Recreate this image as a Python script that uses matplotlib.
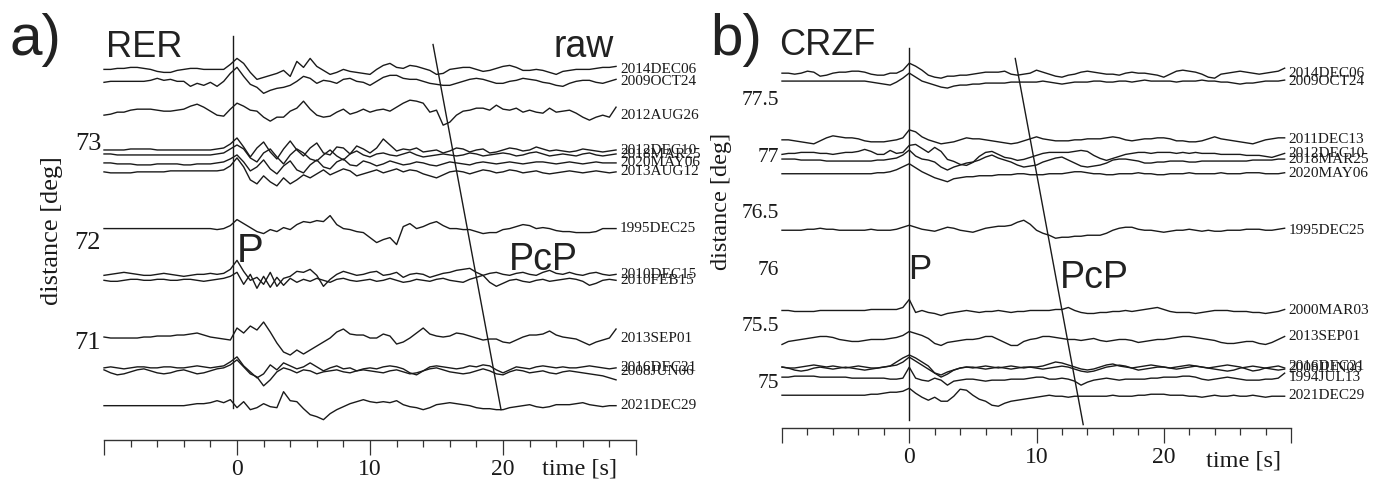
import numpy as np
import matplotlib
matplotlib.use("Agg")
import matplotlib.pyplot as plt

# ------------------------------------ figure size in pixels
W, H = 1373, 480

# ------------------------------------ trace sampling [s]
t_start = -10.0
t_step = 0.5

# ------------------------------------ RER traces (amplitude, arb. units)
rer_2014dec06 = [0, 0, 1, 1, 2, 2, 1, 0, -2, -3,
                 -3, -1, 0, 1, 1, 0, 0, 0, 0, 5,
                 11, 6, -3, -10, -8, -6, -4, -1, -7, 8,
                 2, 11, 3, -1, -5, -3, 0, -2, -3, -4,
                 -5, 0, 4, 6, 2, 1, 4, 3, 1, -1,
                 -5, -4, 0, 1, 2, 2, 0, -2, -1, 1,
                 3, 4, 2, -1, -1, 0, -1, -3, -5, -2,
                 -1, 0, 0, 0, 1, 2, 2, 3]
rer_2009oct24 = [-1, 0, 0, 0, 0, 0, 0, 1, 3, 1,
                 2, 0, 0, -5, -2, -4, -1, -5, 0, 8,
                 14, 5, -3, -6, -12, -9, -7, -6, -4, 0,
                 5, 3, -2, 1, 0, -2, 2, 3, 0, -1,
                 -4, 0, 4, 6, 6, 3, 2, 2, 0, -2,
                 -3, -4, -4, -2, 0, 2, 3, 2, 0, -2,
                 -2, 0, 1, 3, 2, 1, -1, -2, -4, -5,
                 -2, 0, 1, 1, -1, -2, 0, 2]
rer_2012aug26 = [0, 1, 3, 3, 5, 6, 6, 6, 5, 4,
                 4, 5, 6, 9, 11, 8, 4, 0, -1, 6,
                 12, 9, 5, 4, -2, -6, -2, -2, 4, 7,
                 14, 6, 0, -2, -1, 3, 6, 1, 3, 6,
                 3, 5, 6, 4, 8, 12, 15, 14, 12, 3,
                 5, -10, -7, 0, 4, 5, 7, 7, 5, 10,
                 6, 5, 7, 3, 5, 3, 2, 7, 3, 4,
                 5, 2, -2, -5, -2, 0, -2, 8]
rer_2012dec10 = [1, 1, 1, 1, 2, 2, 2, 2, 1, 1,
                 1, 1, 1, 1, 1, 1, 1, 2, 3, 7,
                 13, 4, -6, 3, 9, -1, -8, 2, 10, 1,
                 -5, 3, 8, -2, -4, 4, 3, -3, 5, 2,
                 -2, 3, 12, 6, 0, 2, 1, 3, -1, 0,
                 1, -2, 0, 3, 2, -1, 1, 2, -2, -1,
                 1, 3, 2, 0, 1, 4, 2, 0, 1, 0,
                 -1, 0, 2, 1, 0, -1, 0, 1]
rer_2018mar25 = [1, 1, 0, 0, 0, 0, 0, 0, 0, 0,
                 0, 0, 0, 0, 0, 0, 0, 1, 2, 6,
                 10, 6, -3, -7, 2, 6, -2, -9, 0, 6,
                 2, -4, -6, 0, 5, -1, -5, 1, 4, 0,
                 -2, 1, 2, 0, -1, 1, 3, 0, -2, -1,
                 0, 1, 0, -1, 0, 2, 1, -1, 0, 1,
                 2, 1, -1, 0, 2, 3, 1, -1, 0, 1,
                 0, -1, 1, 2, 0, -1, 0, 1]
rer_2020may06 = [0, 0, -1, -1, -1, -2, -2, -2, -1, -1,
                 -1, -1, -2, -2, -1, -1, -1, 0, 1, 4,
                 8, 1, -8, -4, 3, -6, -11, -3, 2, -7,
                 -10, -2, 3, -4, -6, 1, 4, -2, -3, 2,
                 0, -3, -1, 2, 0, -2, -1, 1, 0, -2,
                 -3, -1, 1, 0, -1, -2, 0, 1, 0, -1,
                 0, 1, 0, -1, 0, 1, 1, 0, -1, 0,
                 1, 0, -1, 0, 1, 0, 0, 0]
rer_2013aug12 = [0, -1, -1, -1, -1, 0, 0, 0, 0, 0,
                 1, 1, 1, 1, 1, 1, 1, 1, 2, 6,
                 14, 5, -8, -12, -4, -10, -14, -6, -12, -8,
                 -3, -6, -2, 2, -3, 0, 3, 1, -4, -2,
                 0, 2, -1, 1, 3, 0, 2, 1, -2, -4,
                 -6, -3, 0, 1, 0, -2, 0, 2, 1, -1,
                 0, 2, 1, -1, 0, 1, -1, -2, -1, 0,
                 1, 0, -1, 0, 1, 0, -1, 0]
rer_1995dec25 = [0, 0, 0, 0, 0, 0, 0, 0, 0, 0,
                 0, 0, 0, 0, 0, 0, 0, -1, 0, 3,
                 9, 5, 1, -3, -5, -1, -3, 1, -1, 4,
                 7, 6, 8, 7, 13, 4, 0, -1, -3, -4,
                 -9, -14, -11, -9, -16, 2, 5, 0, 2, 5,
                 7, 3, 0, 0, -1, -1, -3, -5, -4, -4,
                 -1, 0, 2, 4, 3, 0, 1, 0, -2, -3,
                 -3, -4, -4, -4, -3, 0, 0, 0]
rer_2010dec15 = [-1, 0, 1, 2, 1, 0, -1, -1, 0, 1,
                 0, -1, -2, -1, 0, 0, 1, 0, 1, 5,
                 14, 3, -6, -3, -10, 2, -12, -4, -2, 3,
                 2, 5, -1, -12, -5, 0, 3, 1, -1, 0,
                 2, 3, -1, 0, 2, -3, 0, 1, 0, -3,
                 -1, 1, 2, 4, 5, 6, 2, -1, 1, 2,
                 0, -1, 1, 2, 0, -1, 2, 4, 1, 0,
                 2, 0, -1, 1, 2, 0, -1, 0]
rer_2010feb15 = [0, -1, -1, 0, 1, 1, 0, 0, 1, 1,
                 0, 0, 1, 1, 0, -1, 0, 1, 2, 4,
                 8, -4, 6, -8, 4, -7, 3, -5, 2, -2,
                 1, -1, 2, 0, -2, 1, 2, 0, -1, 0,
                 1, -1, 0, 2, 0, -2, -1, 1, 0, -1,
                 1, 2, 0, -1, -2, 1, 3, 5, -2, -6,
                 -3, 0, 1, -1, -2, 0, 1, -1, 0, 1,
                 2, 1, -1, -5, -3, 0, 1, 0]
rer_2013sep01 = [1, 0, 0, 0, 0, 0, 1, 1, 2, 2,
                 2, 3, 3, 4, 5, 3, 1, 0, -1, -2,
                 10, 5, 12, 8, 16, 6, -5, -14, -17, -12,
                 -16, -12, -8, -4, 0, 6, 9, 4, 3, 3,
                 0, 0, 4, 2, -6, -4, 0, 5, 10, 4,
                 2, 1, 2, 5, 4, 2, 0, -2, -1, -1,
                 -4, -5, -2, 1, 3, 3, 4, 7, 3, 1,
                 0, -1, -4, -7, -4, -2, 0, 9]
rer_2016dec21 = [0, 1, 0, -1, 0, 1, 1, 0, 0, 1,
                 1, 0, 0, 1, 2, 1, 0, 1, 2, 6,
                 11, 2, -4, -10, -6, 3, -2, 5, 2, -1,
                 1, 5, 1, -3, 0, 2, -1, 0, -3, -1,
                 0, -1, 1, 2, 1, -1, -5, -7, -3, 1,
                 2, 1, 0, -1, 0, 2, 1, 3, 2, -2,
                 -5, -2, 1, 0, -1, 1, 2, 1, 0, 1,
                 0, 0, 1, 2, 1, 0, -1, 0]
rer_2008jun06 = [2, -1, -3, -2, 0, 2, 3, 1, -1, -2,
                 -1, 1, 2, 0, -2, -1, 1, 3, 4, 7,
                 12, 5, -2, -5, -14, -8, 0, 4, 2, -1,
                 2, 1, -2, 0, 1, 2, 0, -1, 1, 2,
                 1, 0, -1, 1, 2, 0, -2, -1, 1, 3,
                 4, 2, 0, -1, -2, -1, 1, 3, 1, -2,
                 -3, 0, 2, 1, -1, 0, 1, -1, -2, 0,
                 1, 0, -1, -2, -3, -4, -6, -8]
rer_2021dec29 = [0, 0, 0, 0, 0, 0, 0, 0, 0, 0,
                 0, 0, 0, 1, 2, 2, 3, 5, 3, 6,
                 -2, 4, -4, -2, 2, -1, -2, 14, 5, 4,
                 -3, -9, -11, -14, -8, -4, -1, 2, 4, 6,
                 4, 3, 4, 3, 5, 1, -1, -2, -4, -2,
                 1, 2, 3, 2, 1, 0, -2, -3, -3, -4,
                 -4, -2, -1, 0, 1, -1, -2, -1, 1, 1,
                 1, 2, 3, 1, 0, -1, 0, 0]

labels_a = ["2014DEC06", "2009OCT24", "2012AUG26", "2012DEC10",
            "2018MAR25", "2020MAY06", "2013AUG12", "1995DEC25",
            "2010DEC15", "2010FEB15", "2013SEP01", "2016DEC21",
            "2008JUN06", "2021DEC29"]
dist_a = [73.72, 73.60, 73.26, 72.90, 72.86, 72.78, 72.69, 72.12,
          71.66, 71.60, 71.02, 70.72, 70.68, 70.34]
traces_a = [rer_2014dec06, rer_2009oct24, rer_2012aug26, rer_2012dec10,
            rer_2018mar25, rer_2020may06, rer_2013aug12, rer_1995dec25,
            rer_2010dec15, rer_2010feb15, rer_2013sep01, rer_2016dec21,
            rer_2008jun06, rer_2021dec29]

# ------------------------------------ CRZF traces (amplitude, arb. units)
crzf_2014dec06 = [0, 0, -1, 0, 2, 1, -3, -2, 0, 1,
                  1, 2, 2, 1, -1, -2, -2, 0, 0, 3,
                  10, 7, 3, -2, -4, -5, -3, -3, -2, -2,
                  -1, 0, 1, 1, 1, 2, -1, -2, -1, 0,
                  3, 1, -1, -3, -4, -2, -1, 1, 2, 1,
                  0, -1, -1, -2, 0, 1, 0, 0, -1, -2,
                  -4, -1, 2, 3, 2, 1, -1, -4, -5, -1,
                  0, 1, 2, 1, 0, -1, 0, 1, 2, 5]
crzf_2009oct24 = [0, 0, 0, 0, 0, 0, 0, 0, 0, 0,
                  0, 0, 0, 0, -1, -2, -3, -4, -1, 3,
                  8, 4, 0, -2, -4, -6, -7, -5, -4, -4,
                  -3, -3, -2, -2, -2, -2, -1, -1, -1, -1,
                  -1, 0, -1, -2, -3, -2, -1, -1, -1, 0,
                  0, -1, -1, 0, 0, -1, 0, 1, 0, 0,
                  0, 0, -1, 0, 0, 0, 1, 0, 0, -1,
                  -1, -2, -3, -2, -2, -1, 0, 0, 0, 1]
crzf_2011dec13 = [0, 0, -1, -2, -3, -4, -1, 2, 4, 3,
                  2, 2, 1, -1, -2, -2, -2, -1, 0, 2,
                  10, 8, 3, 0, -2, -4, -3, -2, 0, 2,
                  1, 1, 0, -1, -2, -3, -4, -3, -1, 1,
                  3, 1, 0, -1, -1, -1, 0, 0, 1, 1,
                  1, 2, 3, 2, 0, -1, 0, 1, 1, 2,
                  2, 1, -1, -1, -2, -2, -1, 1, 3, 1,
                  0, -1, -2, -3, -4, -2, 0, 1, 2, 2]
crzf_2012dec10 = [-1, 0, 0, 1, 1, 1, 0, 0, -1, 0,
                  1, 1, 2, 4, 2, -1, -1, 3, 0, 1,
                  8, 9, 5, 1, 6, 2, -6, -8, -11, -12,
                  -9, -3, 1, 2, -1, -4, -5, -7, -6, -4,
                  -2, 0, 1, 1, 1, 1, 2, 3, 2, -2,
                  -5, -7, -5, -3, -1, 0, 1, 1, 0, 1,
                  1, 1, 0, 1, 0, 1, 0, 0, 0, -1,
                  -1, -1, -1, -2, -2, -2, -3, -4, -2, 0]
crzf_2018mar25 = [0, 0, 0, -1, -1, -1, -1, -2, -2, -2,
                  -2, -2, -2, -2, -2, -1, -1, 0, 1, 4,
                  9, 3, 0, -1, -3, -8, -11, -8, -6, -4,
                  -3, -1, 2, 4, 1, -1, -3, -6, -8, -7,
                  -6, -3, -1, 1, 2, -1, -4, -7, -8, -7,
                  -6, -4, -1, 0, 0, -1, -2, -4, -4, -3,
                  -3, -2, -2, -2, -3, -3, -2, -2, -2, -2,
                  -2, -2, -2, -2, -1, -1, -1, -1, 0, 0]
crzf_2020may06 = [0, 0, 0, 0, 0, 0, 0, 0, 0, 0,
                  0, 0, 0, 0, 0, 1, 1, 2, 4, 7,
                  10, 6, 2, -1, -4, -6, -8, -5, -4, -3,
                  -3, -2, -2, -2, -1, -1, -1, 0, 0, -1,
                  -1, -1, 0, 0, 0, 1, 2, 2, 1, 0,
                  0, -1, -1, 0, 0, 0, 1, 0, 0, -1,
                  -1, 0, 0, 0, 1, 0, 0, 0, 0, 1,
                  0, 0, 0, 1, 1, 1, 0, 0, 0, 1]
crzf_1995dec25 = [0, 0, 0, 0, 1, 1, 2, 1, 1, 0,
                  0, 0, 0, 0, 1, 0, 0, 0, 1, 3,
                  5, 3, 1, 0, -1, 1, 3, 2, 0, -1,
                  -2, 0, 2, 3, 4, 4, 5, 8, 10, 6,
                  0, -3, -5, -8, -7, -7, -6, -6, -5, -5,
                  -5, -3, 0, 2, 3, 3, 1, 0, 0, -1,
                  -2, -1, 0, 0, 1, 0, -1, 0, -1, -1,
                  0, 0, 0, 1, 1, 1, 0, 0, 1, 2]
crzf_2000mar03 = [0, 0, -1, -1, -1, -1, 0, 0, 0, 0,
                  0, 0, 0, 0, 1, 1, 1, 1, 1, 3,
                  11, -2, 0, -2, -3, -5, -3, -2, -1, 0,
                  -1, -2, -1, -1, 0, -1, -2, -1, -1, 0,
                  0, 0, 0, 1, 1, 3, 0, -2, -3, -3,
                  -2, -2, -1, -1, 0, -1, 0, 1, 2, 3,
                  1, -1, -2, -2, -2, -3, -2, -1, 0, 0,
                  0, -1, -1, -1, -2, -2, -3, -2, -1, 1]
crzf_2013sep01 = [-8, -5, -4, -3, -2, -1, 0, 0, -1, -3,
                  -4, -5, -5, -4, -3, -3, -3, -2, -1, 1,
                  5, 3, 1, -2, -7, -9, -6, -5, -4, -3,
                  -3, -2, 0, 0, -3, -6, -9, -9, -5, -3,
                  -2, 0, 0, -1, -2, -3, -3, -4, -3, -2,
                  -4, -5, -4, -3, -3, -4, -6, -5, -4, -3,
                  -3, -2, -1, 0, 0, -1, -2, -3, -4, -6,
                  -7, -7, -6, -5, -5, -7, -8, -6, -3, 0]
crzf_2016dec21 = [0, -1, -1, 0, 1, 2, 1, 0, 1, 0,
                  -1, 0, 1, 0, -1, -1, 0, 1, 5, 9,
                  12, 9, 5, 1, -6, -8, -5, -3, -1, 0,
                  -1, 0, 1, 0, -1, 0, 1, 0, -1, 0,
                  0, 1, 3, 5, 4, 2, 0, -2, -3, -2,
                  0, 2, 3, 1, 0, -1, 0, 1, 2, 1,
                  0, -1, 0, 1, 2, 1, 0, -1, 0, 1,
                  2, 1, 0, -2, -4, -3, -1, 0, 1, -1]
crzf_2008jun06 = [1, 0, -2, -3, -2, 0, 1, 0, -1, 0,
                  1, 0, -1, -2, -1, 0, 1, 2, 3, 6,
                  11, 7, 3, -1, -5, -9, -6, -2, 0, 1,
                  1, 0, -1, 0, 1, 0, -1, 0, 1, 1,
                  0, -1, 0, 1, 2, 1, -1, -3, -4, -3,
                  -1, 1, 2, 3, 2, 0, -2, -1, 0, 1,
                  1, 0, -1, 0, 1, 2, 1, 0, -1, -2,
                  -3, -2, 0, 1, 2, 1, 0, -1, -2, -1]
crzf_1994jul13 = [0, 0, 1, 1, 1, 1, 0, 0, 0, 0,
                  0, -1, -1, -1, -1, -1, -1, -2, -2, -1,
                  10, -1, -3, -4, -1, -3, -8, -4, -3, -2,
                  -2, -3, -4, -3, -3, -3, -2, -2, -2, -1,
                  0, 0, -2, -2, -1, -2, -4, -8, -5, -3,
                  -2, -1, -2, -3, -2, -2, -2, -2, -1, -1,
                  0, 0, 0, 1, 1, 0, -2, -3, -2, -1,
                  0, -1, -2, -3, -3, -3, -2, -2, -1, 4]
crzf_2021dec29 = [0, 0, 0, 0, 0, 0, 0, 0, 0, 0,
                  0, 0, 0, 0, 1, 1, 2, 3, 3, 4,
                  7, 2, -2, -5, -2, -6, -6, -1, 6, 5,
                  0, -4, -6, -10, -11, -8, -6, -5, -4, -3,
                  -2, -1, 0, -1, -1, -2, -1, -1, -1, -1,
                  -1, -1, 0, -1, -1, -1, 0, 0, 1, 1,
                  1, 0, 0, 0, -1, -1, -2, -1, 0, -1,
                  -1, 0, -1, -1, 0, -1, -2, -1, -1, -1]

labels_b = ["2014DEC06", "2009OCT24", "2011DEC13", "2012DEC10",
            "2018MAR25", "2020MAY06", "1995DEC25", "2000MAR03",
            "2013SEP01", "2016DEC21", "2008JUN06", "1994JUL13",
            "2021DEC29"]
dist_b = [77.72, 77.65, 77.13, 77.01, 76.96, 76.83, 76.33, 75.62,
          75.39, 75.12, 75.11, 75.03, 74.87]
traces_b = [crzf_2014dec06, crzf_2009oct24, crzf_2011dec13, crzf_2012dec10,
            crzf_2018mar25, crzf_2020may06, crzf_1995dec25, crzf_2000mar03,
            crzf_2013sep01, crzf_2016dec21, crzf_2008jun06, crzf_1994jul13,
            crzf_2021dec29]

# ------------------------------------ phase picks (time [s], distance [deg])
p_a_time = [-0.3, -0.3]
p_a_dist = [74.06, 70.32]
pcp_a_time = [14.74, 19.85]
pcp_a_dist = [73.97, 70.30]
p_b_time = [0.0, 0.0]
p_b_dist = [77.94, 74.65]
pcp_b_time = [8.33, 13.67]
pcp_b_dist = [77.85, 74.61]

yticks_a = [71, 72, 73]
yticks_b = [75, 75.5, 76, 76.5, 77, 77.5]
xtick_major = [-10, 0, 10, 20, 30]
xtick_labels = ["", "0", "10", "20", ""]

plt.rcParams["font.family"] = ["Liberation Serif", "DejaVu Serif"]
SANS = ["Liberation Sans", "DejaVu Sans"]
INK = "#1a1a1a"


def fx(x):
    return x / W


def fy(y):
    return 1.0 - y / H


def section(ax, traces, dists, labels, gain, ylim, yticks, ysize,
            p_t, p_d, pcp_t, pcp_d):
    for amp, dd, lab in zip(traces, dists, labels):
        amp = np.asarray(amp, dtype=float)
        tt = t_start + t_step * np.arange(amp.size)
        ax.plot(tt, dd + amp * gain, color=INK, lw=1.0, clip_on=False)
        ax.text(tt[-1] + 0.3, dd, lab, fontsize=11, va="center",
                ha="left", color=INK, clip_on=False)

    ax.plot(p_t, p_d, color=INK, lw=1.0, clip_on=False)
    ax.plot(pcp_t, pcp_d, color=INK, lw=1.0, clip_on=False)

    ax.set_xlim(-10, 30)
    ax.set_ylim(*ylim)
    for s in ("top", "left", "right"):
        ax.spines[s].set_visible(False)
    ax.spines["bottom"].set_color("#333333")
    ax.spines["bottom"].set_linewidth(1.0)

    ax.set_xticks(xtick_major)
    ax.set_xticklabels(xtick_labels)
    ax.set_xticks(np.arange(-10, 31, 2), minor=True)
    ax.tick_params(axis="x", which="major", length=11, width=0.9,
                   color="#333333", labelsize=17, pad=3, labelcolor=INK)
    ax.tick_params(axis="x", which="minor", length=5, width=0.9,
                   color="#333333")

    ax.set_yticks(yticks)
    ax.set_yticklabels(["%g" % v for v in yticks])
    ax.tick_params(axis="y", length=0, labelsize=ysize, pad=2,
                   labelcolor=INK)
    ax.patch.set_visible(False)


fig = plt.figure(figsize=(W / 100, H / 100), dpi=100)

# ------------------------------------ panel a: RER
axa = fig.add_axes([fx(104), fy(440), fx(636) - fx(104), (440 - 30) / H])
section(axa, traces_a, dist_a, labels_a, 1.0 / 99.5, (69.995, 74.116),
        yticks_a, 19, p_a_time, p_a_dist, pcp_a_time, pcp_a_dist)

# ------------------------------------ panel b: CRZF
axb = fig.add_axes([fx(782), fy(428), fx(1291) - fx(782), (428 - 30) / H])
section(axb, traces_b, dist_b, labels_b, 1.0 / 113.0, (74.580, 78.102),
        yticks_b, 15.5, p_b_time, p_b_dist, pcp_b_time, pcp_b_dist)

# ------------------------------------ annotations
fig.text(fx(9), fy(55), "a)", fontsize=42, family=SANS, color="#222222",
         va="baseline")
fig.text(fx(106), fy(57), "RER", fontsize=26, family=SANS,
         color="#222222", va="baseline")
fig.text(fx(553), fy(57), "raw", fontsize=27, family=SANS,
         color="#222222", va="baseline")
fig.text(fx(237), fy(262), "P", fontsize=29, family=SANS,
         color="#222222", va="baseline")
fig.text(fx(509), fy(270), "PcP", fontsize=27, family=SANS,
         color="#222222", va="baseline")
fig.text(fx(710), fy(55), "b)", fontsize=42, family=SANS,
         color="#222222", va="baseline")
fig.text(fx(779), fy(55), "CRZF", fontsize=26, family=SANS,
         color="#222222", va="baseline")
fig.text(fx(908), fy(279), "P", fontsize=25, family=SANS,
         color="#222222", va="baseline")
fig.text(fx(1060), fy(288), "PcP", fontsize=27, family=SANS,
         color="#222222", va="baseline")

fig.text(fx(52), fy(231), "distance [deg]", fontsize=19, rotation=90,
         ha="center", va="center", color=INK)
fig.text(fx(721), fy(201), "distance [deg]", fontsize=17.5, rotation=90,
         ha="center", va="center", color=INK)
fig.text(fx(542), fy(475), "time [s]", fontsize=17.5, color=INK,
         va="baseline")
fig.text(fx(1206), fy(467), "time [s]", fontsize=17.5, color=INK,
         va="baseline")

fig.savefig("out.png", dpi=100)
